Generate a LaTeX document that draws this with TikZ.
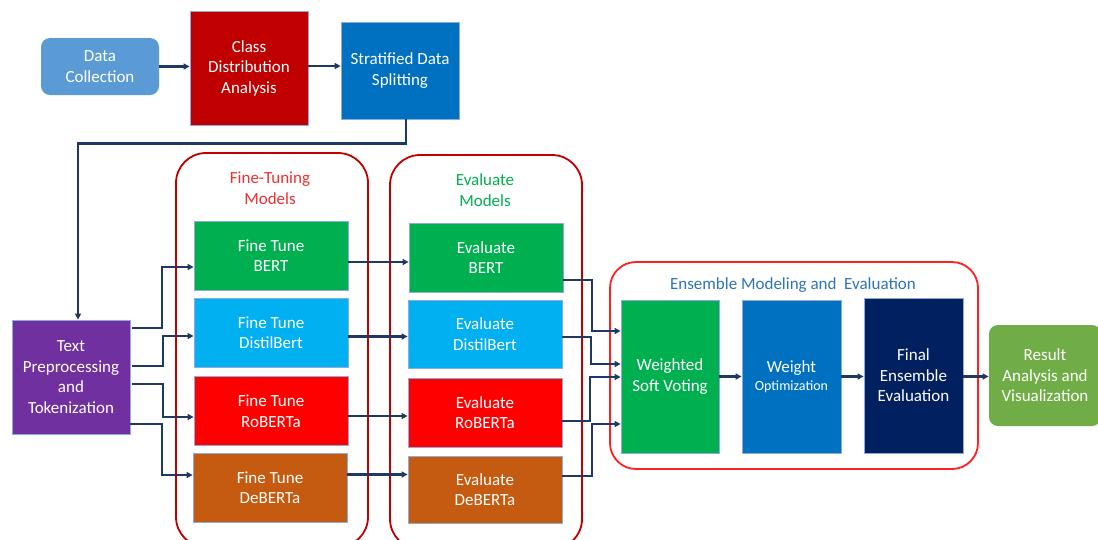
\documentclass[tikz,border=0pt]{standalone}
\usepackage{fontspec}
\setmainfont{Carlito}
\usetikzlibrary{arrows.meta,calc,positioning}
\definecolor{arrc}{HTML}{1F3864}
\definecolor{cDC}{HTML}{5B9BD5}
\definecolor{cCDA}{HTML}{C00000}
\definecolor{cSDS}{HTML}{0070C0}
\definecolor{cTP}{HTML}{7030A0}
\definecolor{cGreen}{HTML}{00B050}
\definecolor{cCyan}{HTML}{00B0F0}
\definecolor{cRed}{HTML}{FF0000}
\definecolor{cBrown}{HTML}{C55A11}
\definecolor{cNavy}{HTML}{002060}
\definecolor{cRes}{HTML}{70AD47}
\definecolor{cBorder}{HTML}{8FAADC}
\definecolor{cCont}{HTML}{C00000}
\definecolor{cEns}{HTML}{FF2020}
\definecolor{cTitleRed}{HTML}{F03030}
\definecolor{cTitleBlue}{HTML}{2E75B6}
\begin{document}
\begin{tikzpicture}[x=1pt,y=-1pt,
  box/.style={draw=cBorder,line width=0.8pt,inner sep=0pt,align=center,text=white,
    font=\fontsize{17}{20.5}\selectfont},
  rbox/.style={box,draw=none,rounded corners=9pt},
  cont/.style={draw=cCont,line width=1.8pt,rounded corners=30pt,inner sep=0pt},
  arr/.style={draw=arrc,line width=2.2pt,-{Triangle[length=6pt,width=6pt]}},
  lbl/.style={align=center,font=\fontsize{17}{20.5}\selectfont}]
\useasboundingbox (0,0) rectangle (1098,539);
\fill[white] (0,0) rectangle (1098,539);
% containers
\node[cont,minimum width=192,minimum height=394] (ftc) at (272,350) {};
\node[cont,minimum width=192,minimum height=394] (evc) at (486,352) {};
\node[cont,draw=cEns,rounded corners=26pt,minimum width=368,minimum height=207] (ensc) at (794,365.5) {};
\node[lbl,text=cTitleRed] (ftl) at (270,188) {Fine-Tuning\\Models};
\node[lbl,text=cGreen] (evl) at (485,190) {Evaluate\\Models};
\node[lbl,text=cTitleBlue] (ensl) at (793,285) {Ensemble Modeling and \ Evaluation};
% top row
\node[rbox,fill=cDC,minimum width=118,minimum height=57] (dc) at (100,66.5) {Data\\Collection};
\node[box,fill=cCDA,minimum width=118,minimum height=114] (cda) at (249,68) {Class\\Distribution\\Analysis};
\node[box,fill=cSDS,minimum width=118,minimum height=97] (sds) at (400,70.5) {Stratified Data\\Splitting};
\node[box,fill=cTP,minimum width=118,minimum height=114] (tp) at (71,377) {Text\\Preprocessing\\and\\Tokenization};
% fine tune
\node[box,fill=cGreen,minimum width=154,minimum height=69] (ft1) at (271,255.5) {Fine Tune\\BERT};
\node[box,fill=cCyan,minimum width=154,minimum height=69] (ft2) at (271,332.5) {Fine Tune\\DistilBert};
\node[box,fill=cRed,minimum width=154,minimum height=69] (ft3) at (271,411) {Fine Tune\\RoBERTa};
\node[box,fill=cBrown,minimum width=154,minimum height=69] (ft4) at (270,487.5) {Fine Tune\\DeBERTa};
% evaluate
\node[box,fill=cGreen,minimum width=154,minimum height=69] (ev1) at (486,257.5) {Evaluate\\BERT};
\node[box,fill=cCyan,minimum width=154,minimum height=68] (ev2) at (485,334) {Evaluate\\DistilBert};
\node[box,fill=cRed,minimum width=154,minimum height=69] (ev3) at (485,412.5) {Evaluate\\RoBERTa};
\node[box,fill=cBrown,minimum width=154,minimum height=67] (ev4) at (485,489.5) {Evaluate\\DeBERTa};
% ensemble
\node[box,fill=cGreen,minimum width=98,minimum height=153] (wsv) at (670,376.5) {Weighted\\Soft Voting};
\node[box,fill=cSDS,minimum width=99,minimum height=153] (wo) at (791.5,376.5) {Weight\\[-3pt]{\fontsize{14}{16}\selectfont Optimization}};
\node[box,fill=cNavy,minimum width=99,minimum height=155] (fe) at (913.5,375.5) {Final\\Ensemble\\Evaluation};
\node[rbox,fill=cRes,minimum width=112,minimum height=101] (res) at (1045,375.5) {Result\\Analysis and\\Visualization};
% arrows top
\draw[arr] (dc.east) -- (dc.east -| cda.west);
\draw[arr] ($(cda.east)+(0,-2)$) coordinate (c1) -- (c1 -| sds.west);
\draw[arr] ($(sds.south)+(6,0)$) -- ++(0,24) -| ($(tp.north)+(7,0)$);
% tp -> ft
\draw[arr] ($(tp.east)+(2,-49)$) -| ($(ft1.west)+(-32,11.5)$) -- ($(ft1.west)+(0,11.5)$);
\draw[arr] ($(tp.east)+(2,-11)$) -| ($(ft2.west)+(-31,3.5)$) -- ($(ft2.west)+(0,3.5)$);
\draw[arr] ($(tp.east)+(2,7)$) -| ($(ft3.west)+(-31,6)$) -- ($(ft3.west)+(0,6)$);
\draw[arr] ($(tp.east)+(0,47)$) -| ($(ft4.west)+(-31,-12.5)$) -- ($(ft4.west)+(0,-12.5)$);
% ft -> ev
\draw[arr] ($(ft1.east)+(0,6.5)$) coordinate (f1) -- (f1 -| ev1.west);
\draw[arr] ($(ft2.east)+(0,4)$) coordinate (f2) -- (f2 -| ev2.west);
\draw[arr] ($(ft3.east)+(0,5)$) coordinate (f3) -- (f3 -| ev3.west);
\draw[arr] ($(ft4.east)+(0,-13)$) coordinate (f4) -- (f4 -| ev4.west);
% ev -> wsv
\draw[arr] ($(ev1.east)+(0,22.5)$) -| ($(wsv.west)+(-29,-45.5)$) -- ($(wsv.west)+(0,-45.5)$);
\draw[arr] ($(ev2.east)+(0,3)$) -| ($(wsv.west)+(-30,-12.5)$) -- ($(wsv.west)+(0,-12.5)$);
\draw[arr] ($(ev3.east)+(0,8.5)$) -| ($(wsv.west)+(-31,0.5)$) -- ($(wsv.west)+(0,0.5)$);
\draw[arr] ($(ev4.east)+(0,-13.5)$) -| ($(wsv.west)+(-29,47.5)$) -- ($(wsv.west)+(0,47.5)$);
% ensemble chain
\draw[arr] (wsv.east) -- (wo.west);
\draw[arr] (wo.east) -- (wo.east -| fe.west);
\draw[arr] ($(fe.east)+(0,1)$) coordinate (e1) -- (e1 -| res.west);
\end{tikzpicture}
\end{document}
